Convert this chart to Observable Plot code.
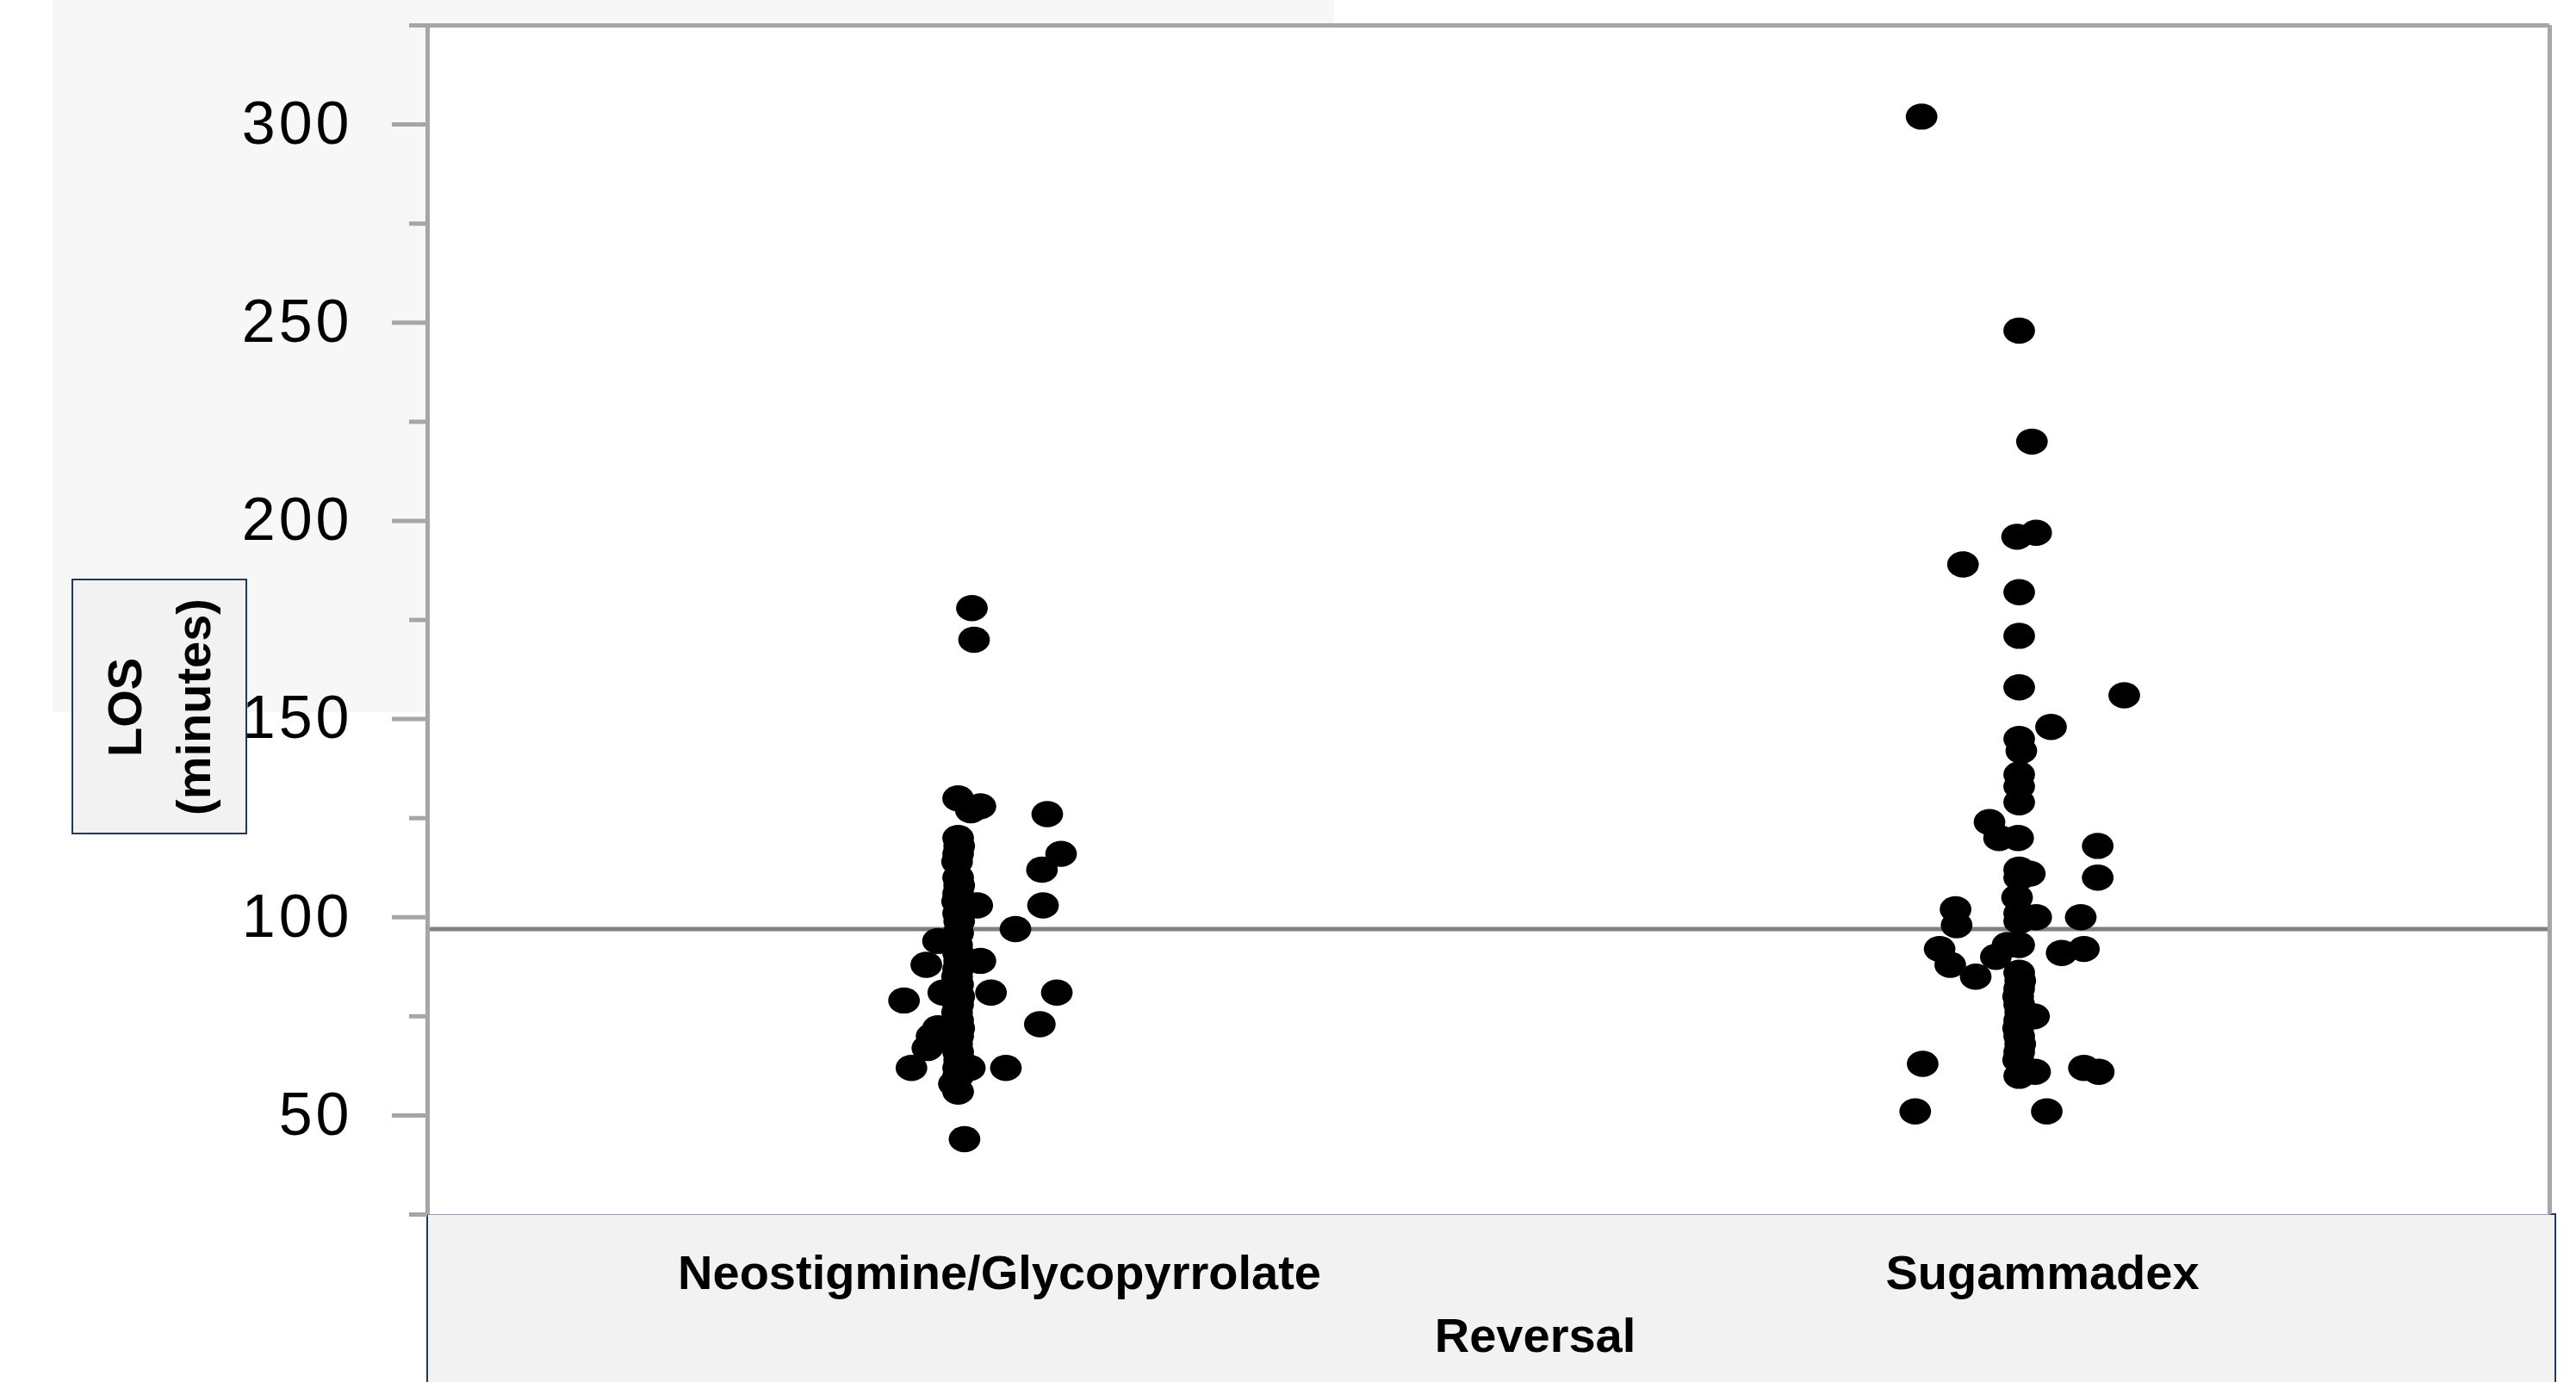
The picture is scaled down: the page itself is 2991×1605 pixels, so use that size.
<!DOCTYPE html>
<html>
<head>
<meta charset="utf-8">
<script src="https://cdn.jsdelivr.net/npm/d3@7"></script>
<script src="https://cdn.jsdelivr.net/npm/@observablehq/plot@0.6"></script>
<style>
  html, body { margin: 0; padding: 0; background: white; }
  body { width: 2991px; height: 1605px; position: relative; overflow: hidden; font-family: "Liberation Sans", Arial, sans-serif; }
  #bg { position: absolute; left: 61px; top: 0; width: 1488px; height: 827px; background: #f7f7f7; }
  #xbox { position: absolute; left: 495px; top: 1409px; width: 2473px; height: 260px; background: #f2f2f2; border: 2px solid #1f3864; box-sizing: border-box; }
  #chart { position: absolute; left: 0; top: 0; }
  #ylab { position: absolute; left: 83px; top: 672px; width: 204px; height: 297px; box-sizing: border-box;
          background: #f2f2f2; border: 2px solid #1f3864; display: flex; align-items: center; justify-content: center; }
  #ylab div { writing-mode: vertical-rl; transform: rotate(180deg); font: bold 56px "Liberation Sans", Arial, sans-serif;
              line-height: 80px; text-align: center; color: black; }
</style>
</head>
<body>
<div id="bg"></div>
<div id="xbox"></div>
<div id="chart"></div>
<div id="ylab"><div>LOS<br>(minutes)</div></div>
<script>
// ---- data ----
const categories = ["Neostigmine/Glycopyrrolate", "Sugammadex"];
const xAxisTitle = "Reversal";
const yAxisTitle = "LOS (minutes)";

// LOS values (minutes) and horizontal jitter (fraction of category width)
const neoLOS = [178, 170, 130, 128, 127, 126, 116, 112, 103, 103, 97, 81, 73, 62, 81, 79, 62, 88, 94, 89, 81, 67, 70, 72, 62, 58, 56, 44,
                120, 118, 116, 114, 110, 108, 106, 104, 101, 99, 96, 93, 91, 89, 87, 85, 83, 80, 78, 76, 74, 72, 70, 68, 66, 64, 62, 60];
const neoJitter = [0.013, 0.015, 0, 0.021, 0.012, 0.084, 0.097, 0.079, 0.080, 0.018, 0.054, 0.093, 0.077, 0.045, 0.031, -0.051, -0.044, -0.030, -0.019, 0.021, -0.014, -0.029, -0.025, -0.019, 0.011, -0.004, 0, 0.006,
                   0, 0.001, 0, -0.001, 0, 0.001, 0, -0.001, 0, 0.001, 0, -0.001, 0, 0.001, 0, -0.001, 0, 0.001, 0, -0.001, 0, 0.001, 0, -0.001, 0, 0.001, 0, 0];

const sugLOS = [302, 248, 220, 197, 196, 189, 182, 171, 158, 156, 148, 145, 142, 136, 133, 129, 124, 120, 120, 118, 110, 112, 111, 110, 105, 101, 100, 99, 100,
                102, 98, 92, 88, 85, 90, 93, 93, 91, 92, 75,
                86, 84, 82, 80, 78, 76, 74, 72, 70, 68, 66, 64, 63, 62, 61, 61, 60, 51, 51];
const sugJitter = [-0.092, 0, 0.012, 0.016, -0.002, -0.053, 0, 0, 0, 0.099, 0.030, 0, 0.002, 0, 0, 0, -0.028, -0.019, -0.001, 0.074, 0.074, 0, 0.010, 0, -0.002, 0, 0.016, 0, 0.058,
                   -0.060, -0.059, -0.075, -0.065, -0.041, -0.022, -0.011, 0, 0.040, 0.061, 0.014,
                   0, 0.001, 0, -0.001, 0, 0.001, 0, -0.001, 0, 0.001, 0, -0.001, -0.091, 0.061, 0.075, 0.015, 0, -0.098, 0.026];

const refLine = 97;
const yDomain = [25, 325];
const xDomain = [-0.5, 1.5];
const yMajorTicks = [50, 100, 150, 200, 250, 300];
const yMinorTicks = [25, 75, 125, 175, 225, 275, 325];

// ---- build table ----
const points = [
  ...neoLOS.map((v, i) => ({group: 0, los: v, jitter: neoJitter[i]})),
  ...sugLOS.map((v, i) => ({group: 1, los: v, jitter: sugJitter[i]}))
];

// ellipse-shaped symbol like the reference markers
const ellipse = {
  draw(ctx) {
    const rx = 18.4, ry = 15.2, k = 0.5523;
    ctx.moveTo(rx, 0);
    ctx.bezierCurveTo(rx, ry * k, rx * k, ry, 0, ry);
    ctx.bezierCurveTo(-rx * k, ry, -rx, ry * k, -rx, 0);
    ctx.bezierCurveTo(-rx, -ry * k, -rx * k, -ry, 0, -ry);
    ctx.bezierCurveTo(rx * k, -ry, rx, -ry * k, rx, 0);
    ctx.closePath();
  }
};

const grey = "#a6a6a6";

const chart = Plot.plot({
  width: 2991,
  height: 1605,
  marginLeft: 496,
  marginRight: 31,
  marginTop: 29,
  marginBottom: 195,
  style: {background: "transparent", fontFamily: "'Liberation Sans', Arial, sans-serif", overflow: "visible", color: "black"},
  x: {type: "linear", domain: xDomain},
  y: {type: "linear", domain: yDomain},
  marks: [
    Plot.frame({fill: "white", stroke: "none"}),
    Plot.ruleY([refLine], {stroke: "#808080", strokeWidth: 5}),
    Plot.dot(points, {x: d => d.group + d.jitter, y: "los", symbol: ellipse, fill: "black", stroke: "none"}),
    Plot.ruleY([yDomain[1]], {stroke: grey, strokeWidth: 5}),
    Plot.ruleX([xDomain[1]], {stroke: grey, strokeWidth: 5}),
    Plot.ruleX([xDomain[0]], {stroke: grey, strokeWidth: 5}),
    Plot.axisY(yMinorTicks, {tickSize: 21, tickFormat: () => "", stroke: grey, strokeWidth: 5, label: null}),
    Plot.axisY(yMajorTicks, {tickSize: 41, tickPadding: 46, fontSize: 70, stroke: grey, strokeWidth: 5, fill: "black", label: null}),
    Plot.axisX([0], {tickSize: 0, tickPadding: 47, tickFormat: i => categories[i], fontSize: 56, fontWeight: "bold", dx: 48, fill: "black", label: null}),
    Plot.axisX([1], {tickSize: 0, tickPadding: 47, tickFormat: i => categories[i], fontSize: 56, fontWeight: "bold", dx: 27, fill: "black", label: null}),
    Plot.text([xAxisTitle], {frameAnchor: "bottom", text: d => d, dx: 54, dy: 159, fontSize: 56, fontWeight: "bold", fill: "black"})
  ]
});

d3.select(chart).selectAll("g[aria-label='y-axis tick label'] text").attr("letter-spacing", 4);
document.getElementById("chart").appendChild(chart);
</script>
</body>
</html>
